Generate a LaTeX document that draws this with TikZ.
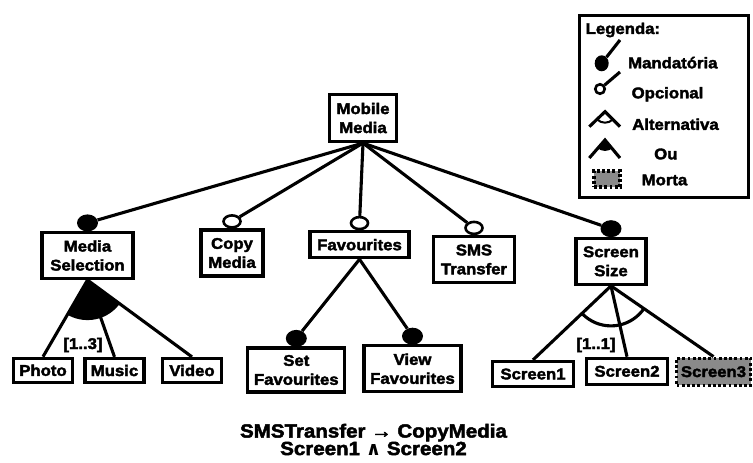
\documentclass[tikz,border=0pt]{standalone}
\usepackage{fontspec}
\setmainfont{Liberation Sans}[FakeStretch=1.08, BoldFeatures={FakeBold=2.4}]
\newfontfamily\fmsym{DejaVu Sans}
\usetikzlibrary{calc,shapes.geometric}
\definecolor{fmink}{HTML}{000000}
\definecolor{fmgrey}{HTML}{8A8A8A}
\tikzset{
  fm text/.style={font=\fontsize{15.5}{19}\selectfont\bfseries, text=fmink},
  fm box/.style={draw=fmink, line width=3.2pt, fill=white, align=center,
    inner sep=0pt, fm text},
  fm line/.style={draw=fmink, line width=3.1pt},
  fm mand/.style={ellipse, fill=fmink, minimum width=21pt, minimum height=17pt,
    inner sep=0pt},
  fm opt/.style={ellipse, draw=fmink, line width=2.6pt, fill=white,
    minimum width=17pt, minimum height=12pt, inner sep=0pt},
  fm dead/.style={fm box, fill=fmgrey, dash pattern=on 2.8pt off 2.4pt},
  fm legtext/.style={anchor=west, inner sep=0pt},
  fm note/.style={font=\fontsize{19}{17.5}\selectfont\bfseries, align=center}
}

\begin{document}
\begin{tikzpicture}[x=1pt, y=1pt, fm text]
  \useasboundingbox (0,0) rectangle (753,463);
  % features
  \node[fm box, minimum width=67, minimum height=47] (mobile) at (363,345) {Mobile\\Media};
  \node[fm box, minimum width=91, minimum height=46] (mediasel) at (87.5,207.5) {Media\\Selection};
  \node[fm box, minimum width=62, minimum height=46] (copymedia) at (232,210) {Copy\\Media};
  \node[fm box, minimum width=99, minimum height=26] (favs) at (359.5,218.3) {Favourites};
  \node[fm box, minimum width=81, minimum height=46] (sms) at (474,203.5) {SMS\\Transfer};
  \node[fm box, minimum width=70, minimum height=46] (screensize) at (611,201.7) {Screen\\Size};
  \node[fm box, minimum width=59, minimum height=24] (photo) at (43,92.7) {Photo};
  \node[fm box, minimum width=59, minimum height=24] (music) at (114.5,92.5) {Music};
  \node[fm box, minimum width=59, minimum height=24] (video) at (192,92.5) {Video};
  \node[fm box, minimum width=97, minimum height=44] (setfav) at (296.3,93) {Set\\Favourites};
  \node[fm box, minimum width=97, minimum height=46] (viewfav) at (412.5,94.2) {View\\Favourites};
  \node[fm box, minimum width=81, minimum height=25] (screen1) at (533,89) {Screen1};
  \node[fm box, minimum width=81, minimum height=26] (screen2) at (627,91.7) {Screen2};
  \node[fm dead, minimum width=74, minimum height=27] (screen3) at (713.5,91.3) {Screen3};

  % mandatory / optional markers
  \node[fm mand] (mediasel-c) at ([yshift=8]mediasel.north) {};
  \node[fm opt] (copymedia-c) at ([yshift=7]copymedia.north) {};
  \node[fm opt] (favs-c) at ([yshift=7]favs.north) {};
  \node[fm opt] (sms-c) at ([yshift=7]sms.north) {};
  \node[fm mand] (screensize-c) at ([yshift=8]screensize.north) {};
  \node[fm mand] (setfav-c) at ([yshift=8]setfav.north) {};
  \node[fm mand] (viewfav-c) at ([yshift=8]viewfav.north) {};

  \foreach \c in {mediasel-c,copymedia-c,favs-c,sms-c,screensize-c}
    \draw[fm line] (mobile.south) -- (\c);
  \draw[fm line] (favs.south) -- (setfav-c);
  \draw[fm line] (favs.south) -- (viewfav-c);

  % or group
  \foreach \c in {photo,music,video}
    \draw[fm line] (mediasel.south) -- (\c.north);
  \begin{scope}
    \clip (mediasel.south) -- (photo.north) -- (video.north) -- cycle;
    \fill[fmink] (mediasel.south) circle[radius=40];
  \end{scope}
  \node (card-or) at (83,118) {[1..3]};

  % alternative group
  \foreach \c in {screen1,screen2,screen3}
    \draw[fm line] (screensize.south) -- (\c.north);
  \begin{scope}
    \clip (screensize.south) -- (screen1.north) -- (screen3.north) -- cycle;
    \draw[fm line] (screensize.south) circle[radius=40];
  \end{scope}
  \node (card-alt) at (596,118) {[1..1]};

  % legend
  \node[fm box, minimum width=169, minimum height=182] (legend) at (664,356.5) {};
  \node[fm legtext] (leg-title) at (585.5,433) {Legenda:};
  \node[ellipse, fill=fmink, minimum width=14, minimum height=16, inner sep=0pt]
    (leg-mand) at (601.7,399.7) {};
  \coordinate (leg-mand-end) at (620,423);
  \draw[fm line] (leg-mand) -- (leg-mand-end);
  \node[fm legtext] (leg-mand-txt) at (628,400.3) {Mandatória};
  \node[circle, draw=fmink, line width=2.6pt, fill=white, minimum size=9.5, inner sep=0pt]
    (leg-opt) at (600,374) {};
  \coordinate (leg-opt-end) at (620,391);
  \draw[fm line] (leg-opt) -- (leg-opt-end);
  \node[fm legtext] (leg-opt-txt) at (631.5,368.7) {Opcional};
  \coordinate (leg-alt) at (605,351.3);
  \coordinate (leg-alt-l) at (589.3,336.3);
  \coordinate (leg-alt-r) at (620,336.3);
  \draw[fm line] (leg-alt-l) -- (leg-alt) -- (leg-alt-r);
  \begin{scope}
    \clip (leg-alt) -- (leg-alt-l) -- (leg-alt-r) -- cycle;
    \draw[fmink, line width=2pt] (leg-alt) circle[radius=11];
  \end{scope}
  \node[fm legtext] (leg-alt-txt) at (632,338.7) {Alternativa};
  \coordinate (leg-or) at (605,323);
  \coordinate (leg-or-l) at (589.3,305);
  \coordinate (leg-or-r) at (620,305);
  \draw[fm line] (leg-or-l) -- (leg-or) -- (leg-or-r);
  \begin{scope}
    \clip (leg-or) -- (leg-or-l) -- (leg-or-r) -- cycle;
    \fill[fmink] (leg-or) circle[radius=11];
  \end{scope}
  \node[fm legtext] (leg-or-txt) at (654,309) {Ou};
  \node[fm dead, minimum width=26, minimum height=16] (leg-dead) at (607,284) {};
  \node[fm legtext] (leg-dead-txt) at (641.5,283) {Morta};

  % cross-tree constraints
  \node[fm note] (constraints) at (373.5,23.5)
    {SMSTransfer → CopyMedia\\Screen1 {\fmsym ∧} Screen2};
\end{tikzpicture}
\end{document}
